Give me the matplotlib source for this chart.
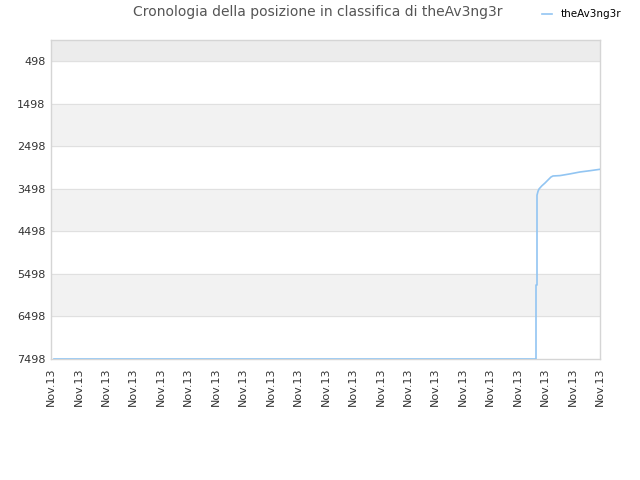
import matplotlib
matplotlib.use("Agg")
import matplotlib.pyplot as plt

# dati (x = posizione relativa nel tempo, y = posizione in classifica)
tempo = [3, 485, 485, 486, 486, 487, 488, 490.7, 494, 497, 500, 502, 509, 519, 529, 539, 549]
posizione = [7498, 7498, 5760, 5760, 3650, 3560, 3505, 3434, 3364, 3293, 3223, 3199,
             3190, 3150, 3105, 3075, 3042]
y_ticks = [498, 1498, 2498, 3498, 4498, 5498, 6498, 7498]
x_ticks = [i * 549 / 20 for i in range(21)]
x_labels = ["Nov.13"] * 21

fig = plt.figure(figsize=(6.4, 4.8), dpi=100)
ax = fig.add_axes([51 / 640, 121 / 480, 549 / 640, 319 / 480])

ax.set_xlim(0, 549)
ax.set_ylim(7498, 5)

# bande alternate
ax.axhspan(5, 498, color="#ececec", zorder=0)
for i in range(1, len(y_ticks) - 1, 2):
    ax.axhspan(y_ticks[i], y_ticks[i + 1], color="#f2f2f2", zorder=0)
for t in y_ticks[:-1]:
    ax.axhline(t, color="#e0e0e0", lw=0.8, zorder=1)

ax.plot(tempo, posizione, color="#92c5f2", lw=1.2, zorder=3, label="theAv3ng3r")

ax.set_yticks(y_ticks)
ax.set_yticklabels([str(t) for t in y_ticks], fontsize=8, color="#333333")
ax.set_xticks(x_ticks)
ax.set_xticklabels(x_labels, rotation=90, fontsize=8, color="#333333")
ax.tick_params(length=0, pad=4)
ax.tick_params(axis="x", pad=6)

for s in ax.spines.values():
    s.set_color("#d5d5d5")
    s.set_linewidth(1)

fig.text(0.497, 0.99, "Cronologia della posizione in classifica di theAv3ng3r",
         ha="center", va="top", fontsize=10, color="#555555")
fig.legend(loc="upper right", bbox_to_anchor=(0.985, 1.0), frameon=False,
           fontsize=7.5, handlelength=1.0, handletextpad=0.8)

fig.savefig("out.png", dpi=100)
